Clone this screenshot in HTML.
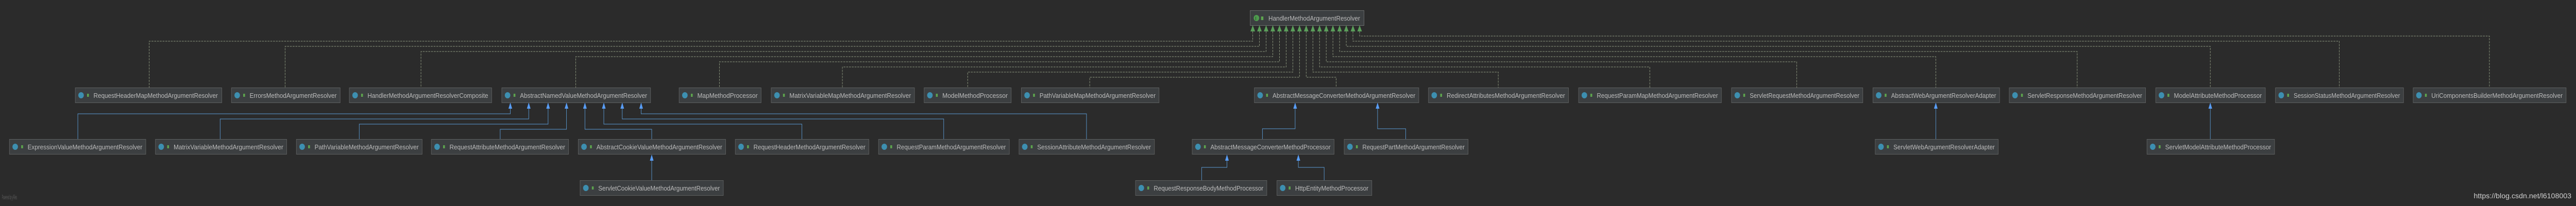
<!DOCTYPE html>
<html><head><meta charset="utf-8"><style>
html,body{margin:0;padding:0;background:#2b2b2b;width:100%;height:100%;overflow:hidden}
svg{display:block;width:100vw;height:100vh}
.n{fill:#3c3f41;stroke:#5e6060;stroke-width:1}
.t{fill:#bbbbbb;font-family:"Liberation Sans",sans-serif;font-size:13px}
.d{fill:none;stroke:#8f9a80;stroke-width:1;stroke-dasharray:4 2}
.b{fill:none;stroke:#5b9bd5;stroke-width:1}
.ba{fill:#589df6}
.ga{fill:#5a9e5a}
.ic{fill:#3d8fb0}
.lk{fill:#5da34e}
</style></head><body>
<svg viewBox="0 0 5593 400" preserveAspectRatio="none" xmlns="http://www.w3.org/2000/svg">
<rect x="0" y="0" width="5593" height="400" fill="#2b2b2b"/>
<!-- top interface -->
<rect class="n" x="2714.5" y="20.5" width="247" height="29" style="stroke:#6a6c6c"/>
<circle cx="2728" cy="35" r="6" fill="#4e9a4e"/><text x="2725.5" y="39" font-size="9" fill="#1d3d1d" font-family="Liberation Sans">I</text>
<rect class="lk" x="2738" y="32" width="5" height="7"/>
<text class="t" x="2754" y="40" textLength="199" lengthAdjust="spacingAndGlyphs">HandlerMethodArgumentResolver</text>

<!-- dashed connectors -->
<polyline class="d" points="2720,61 2720,80 324,80 324,170"/>
<polyline class="d" points="2734.5,61 2734.5,90 619,90 619,170"/>
<polyline class="d" points="2749,61 2749,100 914,100 914,170"/>
<polyline class="d" points="2763.5,61 2763.5,110 1250,110 1250,170"/>
<polyline class="d" points="2778,61 2778,120 1562,120 1562,170"/>
<polyline class="d" points="2792.5,61 2792.5,130 1829,130 1829,170"/>
<polyline class="d" points="2807,61 2807,140 2101,140 2101,170"/>
<polyline class="d" points="2821.5,61 2821.5,150 2366,150 2366,170"/>
<polyline class="d" points="2836,61 2836,150 2901,150 2901,170"/>
<polyline class="d" points="2850.5,61 2850.5,140 3253,140 3253,170"/>
<polyline class="d" points="2865,61 2865,130 3582,130 3582,170"/>
<polyline class="d" points="2879.5,61 2879.5,120 3901,120 3901,170"/>
<polyline class="d" points="2894,61 2894,110 4203,110 4203,170"/>
<polyline class="d" points="2908.5,61 2908.5,100 4510,100 4510,170"/>
<polyline class="d" points="2923,61 2923,90 4799,90 4799,170"/>
<polyline class="d" points="2937.5,61 2937.5,80 5079,80 5079,170"/>
<polyline class="d" points="2952,61 2952,70 5405,70 5405,170"/>
<!-- green arrowheads -->
<g class="ga">
<polygon points="2720,49 2715,61 2725,61"/><polygon points="2734.5,49 2729.5,61 2739.5,61"/>
<polygon points="2749,49 2744,61 2754,61"/><polygon points="2763.5,49 2758.5,61 2768.5,61"/>
<polygon points="2778,49 2773,61 2783,61"/><polygon points="2792.5,49 2787.5,61 2797.5,61"/>
<polygon points="2807,49 2802,61 2812,61"/><polygon points="2821.5,49 2816.5,61 2826.5,61"/>
<polygon points="2836,49 2831,61 2841,61"/><polygon points="2850.5,49 2845.5,61 2855.5,61"/>
<polygon points="2865,49 2860,61 2870,61"/><polygon points="2879.5,49 2874.5,61 2884.5,61"/>
<polygon points="2894,49 2889,61 2899,61"/><polygon points="2908.5,49 2903.5,61 2913.5,61"/>
<polygon points="2923,49 2918,61 2928,61"/><polygon points="2937.5,49 2932.5,61 2942.5,61"/>
<polygon points="2952,49 2947,61 2957,61"/>
</g>

<!-- blue connectors -->
<polyline class="b" points="169,270 169,221 1108,221 1108,210"/>
<polyline class="b" points="478,270 478,231 1148,231 1148,210"/>
<polyline class="b" points="780,270 780,241 1190,241 1190,210"/>
<polyline class="b" points="1086,270 1086,251 1230,251 1230,210"/>
<polyline class="b" points="1415,270 1415,251 1270,251 1270,210"/>
<polyline class="b" points="1741,270 1741,241 1311,241 1311,210"/>
<polyline class="b" points="2049,270 2049,231 1351,231 1351,210"/>
<polyline class="b" points="2359,270 2359,221 1392,221 1392,210"/>
<polyline class="b" points="1415,350 1415,311"/>
<polyline class="b" points="2741,270 2741,250 2812,250 2812,210"/>
<polyline class="b" points="3052,270 3052,250 2991,250 2991,210"/>
<polyline class="b" points="2609,350 2609,325 2664,325 2664,311"/>
<polyline class="b" points="2875,350 2875,325 2819,325 2819,311"/>
<polyline class="b" points="4203,270 4203,210"/>
<polyline class="b" points="4799,270 4799,210"/>
<g class="ba">
<polygon points="1108,199 1104,211 1112,211"/><polygon points="1148,199 1144,211 1152,211"/>
<polygon points="1190,199 1186,211 1194,211"/><polygon points="1230,199 1226,211 1234,211"/>
<polygon points="1270,199 1266,211 1274,211"/><polygon points="1311,199 1307,211 1315,211"/>
<polygon points="1351,199 1347,211 1355,211"/><polygon points="1392,199 1388,211 1396,211"/>
<polygon points="1415,300 1411,312 1419,312"/>
<polygon points="2812,199 2808,211 2816,211"/><polygon points="2991,199 2987,211 2995,211"/>
<polygon points="2664,300 2660,312 2668,312"/><polygon points="2819,300 2815,312 2823,312"/>
<polygon points="4203,199 4199,211 4207,211"/><polygon points="4799,199 4795,211 4803,211"/>
</g>

<!-- row 1 nodes -->
<g>
<rect class="n" x="163.5" y="170.5" width="318" height="29"/><circle class="ic" cx="176" cy="185" r="6"/><rect class="lk" x="189" y="182" width="4" height="6"/><text class="t" x="203" y="190" textLength="270" lengthAdjust="spacingAndGlyphs">RequestHeaderMapMethodArgumentResolver</text>
<rect class="n" x="502.5" y="170.5" width="236" height="29"/><circle class="ic" cx="515" cy="185" r="6"/><rect class="lk" x="528" y="182" width="4" height="6"/><text class="t" x="542" y="190" textLength="189" lengthAdjust="spacingAndGlyphs">ErrorsMethodArgumentResolver</text>
<rect class="n" x="758.5" y="170.5" width="309" height="29"/><circle class="ic" cx="771" cy="185" r="6"/><rect class="lk" x="784" y="182" width="4" height="6"/><text class="t" x="798" y="190" textLength="262" lengthAdjust="spacingAndGlyphs">HandlerMethodArgumentResolverComposite</text>
<rect class="n" x="1089.5" y="170.5" width="323" height="29"/><circle class="ic" cx="1102" cy="185" r="6"/><rect class="lk" x="1115" y="182" width="4" height="6"/><text class="t" x="1129" y="190" textLength="276" lengthAdjust="spacingAndGlyphs">AbstractNamedValueMethodArgumentResolver</text>
<rect class="n" x="1474.5" y="170.5" width="178" height="29"/><circle class="ic" cx="1487" cy="185" r="6"/><rect class="lk" x="1500" y="182" width="4" height="6"/><text class="t" x="1514" y="190" textLength="131" lengthAdjust="spacingAndGlyphs">MapMethodProcessor</text>
<rect class="n" x="1674.5" y="170.5" width="311" height="29"/><circle class="ic" cx="1687" cy="185" r="6"/><rect class="lk" x="1700" y="182" width="4" height="6"/><text class="t" x="1714" y="190" textLength="264" lengthAdjust="spacingAndGlyphs">MatrixVariableMapMethodArgumentResolver</text>
<rect class="n" x="2006.5" y="170.5" width="189" height="29"/><circle class="ic" cx="2019" cy="185" r="6"/><rect class="lk" x="2032" y="182" width="4" height="6"/><text class="t" x="2046" y="190" textLength="142" lengthAdjust="spacingAndGlyphs">ModelMethodProcessor</text>
<rect class="n" x="2217.5" y="170.5" width="299" height="29"/><circle class="ic" cx="2230" cy="185" r="6"/><rect class="lk" x="2243" y="182" width="4" height="6"/><text class="t" x="2257" y="190" textLength="252" lengthAdjust="spacingAndGlyphs">PathVariableMapMethodArgumentResolver</text>
<rect class="n" x="2723.5" y="170.5" width="357" height="29"/><circle class="ic" cx="2736" cy="185" r="6"/><rect class="lk" x="2749" y="182" width="4" height="6"/><text class="t" x="2763" y="190" textLength="310" lengthAdjust="spacingAndGlyphs">AbstractMessageConverterMethodArgumentResolver</text>
<rect class="n" x="3101.5" y="170.5" width="304" height="29"/><circle class="ic" cx="3114" cy="185" r="6"/><rect class="lk" x="3127" y="182" width="4" height="6"/><text class="t" x="3141" y="190" textLength="257" lengthAdjust="spacingAndGlyphs">RedirectAttributesMethodArgumentResolver</text>
<rect class="n" x="3427.5" y="170.5" width="310" height="29"/><circle class="ic" cx="3440" cy="185" r="6"/><rect class="lk" x="3453" y="182" width="4" height="6"/><text class="t" x="3467" y="190" textLength="263" lengthAdjust="spacingAndGlyphs">RequestParamMapMethodArgumentResolver</text>
<rect class="n" x="3759.5" y="170.5" width="285" height="29"/><circle class="ic" cx="3772" cy="185" r="6"/><rect class="lk" x="3785" y="182" width="4" height="6"/><text class="t" x="3799" y="190" textLength="238" lengthAdjust="spacingAndGlyphs">ServletRequestMethodArgumentResolver</text>
<rect class="n" x="4066.5" y="170.5" width="275" height="29"/><circle class="ic" cx="4079" cy="185" r="6"/><rect class="lk" x="4092" y="182" width="4" height="6"/><text class="t" x="4106" y="190" textLength="228" lengthAdjust="spacingAndGlyphs">AbstractWebArgumentResolverAdapter</text>
<rect class="n" x="4362.5" y="170.5" width="296" height="29"/><circle class="ic" cx="4375" cy="185" r="6"/><rect class="lk" x="4388" y="182" width="4" height="6"/><text class="t" x="4402" y="190" textLength="249" lengthAdjust="spacingAndGlyphs">ServletResponseMethodArgumentResolver</text>
<rect class="n" x="4680.5" y="170.5" width="238" height="29"/><circle class="ic" cx="4693" cy="185" r="6"/><rect class="lk" x="4706" y="182" width="4" height="6"/><text class="t" x="4720" y="190" textLength="191" lengthAdjust="spacingAndGlyphs">ModelAttributeMethodProcessor</text>
<rect class="n" x="4940.5" y="170.5" width="278" height="29"/><circle class="ic" cx="4953" cy="185" r="6"/><rect class="lk" x="4966" y="182" width="4" height="6"/><text class="t" x="4980" y="190" textLength="231" lengthAdjust="spacingAndGlyphs">SessionStatusMethodArgumentResolver</text>
<rect class="n" x="5239.5" y="170.5" width="332" height="29"/><circle class="ic" cx="5252" cy="185" r="6"/><rect class="lk" x="5265" y="182" width="4" height="6"/><text class="t" x="5279" y="190" textLength="285" lengthAdjust="spacingAndGlyphs">UriComponentsBuilderMethodArgumentResolver</text>
</g>
<!-- row 2 -->
<g>
<rect class="n" x="20.5" y="270.5" width="296" height="29"/><circle class="ic" cx="33" cy="285" r="6"/><rect class="lk" x="46" y="282" width="4" height="6"/><text class="t" x="60" y="290" textLength="249" lengthAdjust="spacingAndGlyphs">ExpressionValueMethodArgumentResolver</text>
<rect class="n" x="337.5" y="270.5" width="285" height="29"/><circle class="ic" cx="350" cy="285" r="6"/><rect class="lk" x="363" y="282" width="4" height="6"/><text class="t" x="377" y="290" textLength="238" lengthAdjust="spacingAndGlyphs">MatrixVariableMethodArgumentResolver</text>
<rect class="n" x="643.5" y="270.5" width="273" height="29"/><circle class="ic" cx="656" cy="285" r="6"/><rect class="lk" x="669" y="282" width="4" height="6"/><text class="t" x="683" y="290" textLength="226" lengthAdjust="spacingAndGlyphs">PathVariableMethodArgumentResolver</text>
<rect class="n" x="936.5" y="270.5" width="298" height="29"/><circle class="ic" cx="949" cy="285" r="6"/><rect class="lk" x="962" y="282" width="4" height="6"/><text class="t" x="976" y="290" textLength="251" lengthAdjust="spacingAndGlyphs">RequestAttributeMethodArgumentResolver</text>
<rect class="n" x="1255.5" y="270.5" width="320" height="29"/><circle class="ic" cx="1268" cy="285" r="6"/><rect class="lk" x="1281" y="282" width="4" height="6"/><text class="t" x="1295" y="290" textLength="273" lengthAdjust="spacingAndGlyphs">AbstractCookieValueMethodArgumentResolver</text>
<rect class="n" x="1596.5" y="270.5" width="290" height="29"/><circle class="ic" cx="1609" cy="285" r="6"/><rect class="lk" x="1622" y="282" width="4" height="6"/><text class="t" x="1636" y="290" textLength="243" lengthAdjust="spacingAndGlyphs">RequestHeaderMethodArgumentResolver</text>
<rect class="n" x="1907.5" y="270.5" width="284" height="29"/><circle class="ic" cx="1920" cy="285" r="6"/><rect class="lk" x="1933" y="282" width="4" height="6"/><text class="t" x="1947" y="290" textLength="237" lengthAdjust="spacingAndGlyphs">RequestParamMethodArgumentResolver</text>
<rect class="n" x="2212.5" y="270.5" width="294" height="29"/><circle class="ic" cx="2225" cy="285" r="6"/><rect class="lk" x="2238" y="282" width="4" height="6"/><text class="t" x="2252" y="290" textLength="247" lengthAdjust="spacingAndGlyphs">SessionAttributeMethodArgumentResolver</text>
<rect class="n" x="2588.5" y="270.5" width="308" height="29"/><circle class="ic" cx="2601" cy="285" r="6"/><rect class="lk" x="2614" y="282" width="4" height="6"/><text class="t" x="2628" y="290" textLength="261" lengthAdjust="spacingAndGlyphs">AbstractMessageConverterMethodProcessor</text>
<rect class="n" x="2918.5" y="270.5" width="269" height="29"/><circle class="ic" cx="2931" cy="285" r="6"/><rect class="lk" x="2944" y="282" width="4" height="6"/><text class="t" x="2958" y="290" textLength="222" lengthAdjust="spacingAndGlyphs">RequestPartMethodArgumentResolver</text>
<rect class="n" x="4071.5" y="270.5" width="267" height="29"/><circle class="ic" cx="4084" cy="285" r="6"/><rect class="lk" x="4097" y="282" width="4" height="6"/><text class="t" x="4111" y="290" textLength="220" lengthAdjust="spacingAndGlyphs">ServletWebArgumentResolverAdapter</text>
<rect class="n" x="4661.5" y="270.5" width="277" height="29"/><circle class="ic" cx="4674" cy="285" r="6"/><rect class="lk" x="4687" y="282" width="4" height="6"/><text class="t" x="4701" y="290" textLength="230" lengthAdjust="spacingAndGlyphs">ServletModelAttributeMethodProcessor</text>
</g>
<!-- row 3 -->
<g>
<rect class="n" x="1259.5" y="350.5" width="311" height="29"/><circle class="ic" cx="1272" cy="365" r="6"/><rect class="lk" x="1285" y="362" width="4" height="6"/><text class="t" x="1299" y="370" textLength="264" lengthAdjust="spacingAndGlyphs">ServletCookieValueMethodArgumentResolver</text>
<rect class="n" x="2465.5" y="350.5" width="285" height="29"/><circle class="ic" cx="2478" cy="365" r="6"/><rect class="lk" x="2491" y="362" width="4" height="6"/><text class="t" x="2505" y="370" textLength="238" lengthAdjust="spacingAndGlyphs">RequestResponseBodyMethodProcessor</text>
<rect class="n" x="2772.5" y="350.5" width="206" height="29"/><circle class="ic" cx="2785" cy="365" r="6"/><rect class="lk" x="2798" y="362" width="4" height="6"/><text class="t" x="2812" y="370" textLength="159" lengthAdjust="spacingAndGlyphs">HttpEntityMethodProcessor</text>
</g>
<text x="4" y="387" fill="#5c5c5c" font-family="Liberation Sans, sans-serif" font-size="12" textLength="33" lengthAdjust="spacingAndGlyphs">Powered by yFiles</text>
<text x="5371" y="385" fill="#cfcfcf" font-family="Liberation Sans, sans-serif" font-size="14" textLength="212" lengthAdjust="spacingAndGlyphs">https://blog.csdn.net/l6108003</text>
</svg>
</body></html>
